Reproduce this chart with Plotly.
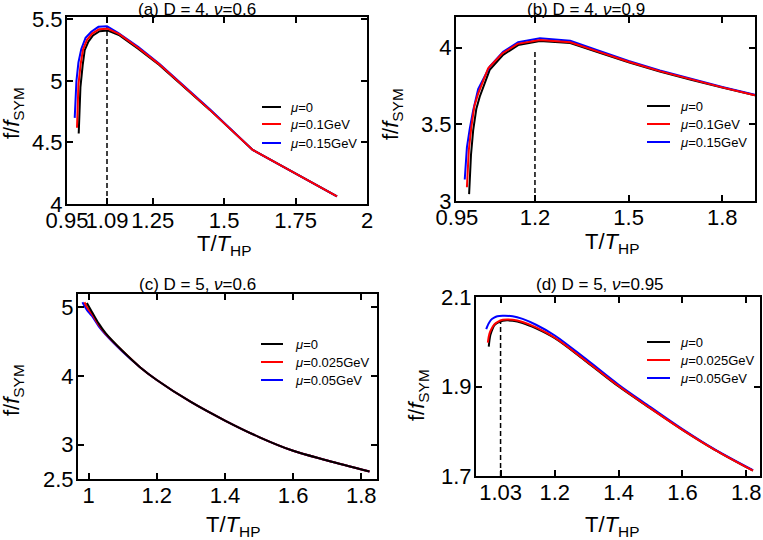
import plotly.graph_objects as go

W, H = 763, 540
FONT = "Liberation Sans, Arial, sans-serif"

# ---------------- data ----------------
# (a) D = 4, nu = 0.6
A_T_k = [0.991, 0.997, 1.005, 1.012, 1.025, 1.041, 1.064, 1.093, 1.134, 1.2, 1.273, 1.45, 1.6, 1.895]
A_f_k = [4.573, 4.95, 5.13, 5.25, 5.32, 5.37, 5.405, 5.41, 5.37, 5.26, 5.13, 4.765, 4.44, 4.062]
A_T_r = [0.985, 0.99, 0.998, 1.006, 1.02, 1.038, 1.062, 1.092, 1.133, 1.2, 1.273, 1.45, 1.6, 1.895]
A_f_r = [4.62, 4.97, 5.14, 5.255, 5.335, 5.385, 5.42, 5.425, 5.38, 5.268, 5.135, 4.765, 4.44, 4.062]
A_T_b = [0.977, 0.983, 0.99, 1.0, 1.015, 1.035, 1.06, 1.09, 1.13, 1.2, 1.273, 1.45, 1.6, 1.895]
A_f_b = [4.70, 5.0, 5.15, 5.26, 5.35, 5.40, 5.44, 5.445, 5.39, 5.275, 5.14, 4.77, 4.44, 4.062]
A_dash_T = [1.09, 1.09]
A_dash_f = [4.0, 5.44]
A_xticks = [0.95, 1.09, 1.25, 1.5, 1.75, 2.0]
A_xlabels = ["0.95", "1.09", "1.25", "1.5", "1.75", "2"]
A_yticks = [4.0, 4.5, 5.0, 5.5]
A_ylabels = ["4", "4.5", "5", "5.5"]
A_legend = ["μ=0", "μ=0.1GeV", "μ=0.15GeV"]

# (b) D = 4, nu = 0.9
B_T_k = [0.989, 0.995, 1.002, 1.012, 1.023, 1.055, 1.098, 1.146, 1.216, 1.313, 1.4, 1.5, 1.6, 1.7, 1.8, 1.905]
B_f_k = [3.045, 3.3, 3.46, 3.6, 3.68, 3.855, 3.953, 4.017, 4.043, 4.03, 3.972, 3.905, 3.845, 3.79, 3.74, 3.69]
B_T_r = [0.982, 0.988, 0.996, 1.006, 1.018, 1.05, 1.095, 1.144, 1.216, 1.313, 1.4, 1.5, 1.6, 1.7, 1.8, 1.905]
B_f_r = [3.09, 3.33, 3.48, 3.62, 3.70, 3.865, 3.962, 4.025, 4.05, 4.035, 3.976, 3.908, 3.847, 3.792, 3.741, 3.69]
B_T_b = [0.975, 0.982, 0.991, 1.002, 1.018, 1.055, 1.098, 1.146, 1.216, 1.313, 1.4, 1.5, 1.6, 1.7, 1.8, 1.905]
B_f_b = [3.14, 3.35, 3.47, 3.59, 3.73, 3.877, 3.974, 4.035, 4.061, 4.045, 3.983, 3.913, 3.851, 3.795, 3.743, 3.692]
B_dash_T = [1.2, 1.2]
B_dash_f = [3.0, 3.985]
B_xticks = [0.95, 1.2, 1.5, 1.8]
B_xlabels = ["0.95", "1.2", "1.5", "1.8"]
B_yticks = [3.0, 3.5, 4.0]
B_ylabels = ["3", "3.5", "4"]
B_legend = ["μ=0", "μ=0.1GeV", "μ=0.15GeV"]

# (c) D = 5, nu = 0.6
C_T_k = [0.995, 1.01, 1.03, 1.05, 1.1, 1.15, 1.2, 1.3, 1.4, 1.5, 1.6, 1.7, 1.824]
C_f_k = [5.06, 4.93, 4.76, 4.62, 4.36, 4.13, 3.94, 3.62, 3.35, 3.11, 2.91, 2.77, 2.61]
C_T_r = [0.988, 0.995, 1.01, 1.03, 1.05, 1.1, 1.15, 1.2, 1.3, 1.4, 1.5, 1.6, 1.7, 1.824]
C_f_r = [5.07, 5.0, 4.90, 4.74, 4.61, 4.36, 4.13, 3.94, 3.62, 3.35, 3.11, 2.91, 2.77, 2.61]
C_T_b = [0.982, 0.995, 1.01, 1.03, 1.05, 1.1, 1.15, 1.2, 1.3, 1.4, 1.5, 1.6, 1.7, 1.824]
C_f_b = [5.07, 4.96, 4.87, 4.72, 4.60, 4.35, 4.13, 3.94, 3.62, 3.35, 3.11, 2.91, 2.77, 2.61]
C_xticks = [1.0, 1.2, 1.4, 1.6, 1.8]
C_xlabels = ["1", "1.2", "1.4", "1.6", "1.8"]
C_yticks = [2.5, 3.0, 4.0, 5.0]
C_ylabels = ["2.5", "3", "4", "5"]
C_legend = ["μ=0", "μ=0.025GeV", "μ=0.05GeV"]

# (d) D = 5, nu = 0.95
D_T_k = [0.993, 0.998, 1.005, 1.011, 1.02, 1.037, 1.068, 1.099, 1.141, 1.2, 1.3, 1.4, 1.5, 1.6, 1.7, 1.821]
D_f_k = [1.989, 2.015, 2.029, 2.037, 2.042, 2.047, 2.047, 2.042, 2.03, 2.008, 1.955, 1.9, 1.851, 1.803, 1.759, 1.712]
D_T_r = [0.99, 0.995, 1.003, 1.011, 1.02, 1.037, 1.068, 1.099, 1.141, 1.2, 1.3, 1.4, 1.5, 1.6, 1.7, 1.821]
D_f_r = [1.998, 2.018, 2.031, 2.039, 2.044, 2.049, 2.049, 2.044, 2.032, 2.009, 1.956, 1.901, 1.851, 1.803, 1.759, 1.712]
D_T_b = [0.985, 0.992, 1.0, 1.01, 1.02, 1.037, 1.068, 1.099, 1.141, 1.2, 1.3, 1.4, 1.5, 1.6, 1.7, 1.821]
D_f_b = [2.028, 2.04, 2.049, 2.054, 2.057, 2.058, 2.057, 2.051, 2.038, 2.014, 1.96, 1.904, 1.854, 1.805, 1.76, 1.713]
D_dash_T = [1.03, 1.03]
D_dash_f = [1.7, 2.045]
D_xticks = [1.03, 1.2, 1.4, 1.6, 1.8]
D_xlabels = ["1.03", "1.2", "1.4", "1.6", "1.8"]
D_yticks = [1.7, 1.9, 2.1]
D_ylabels = ["1.7", "1.9", "2.1"]
D_legend = ["μ=0", "μ=0.025GeV", "μ=0.05GeV"]

TITLES = ["(a) D = 4, <i>ν</i>=0.6", "(b) D = 4, <i>ν</i>=0.9",
          "(c) D = 5, <i>ν</i>=0.6", "(d) D = 5, <i>ν</i>=0.95"]

BLACK, RED, BLUE = "#000000", "#ff0000", "#0000ff"

# ---------------- layout geometry (pixels) ----------------
panels = [
    dict(key="", box=(67, 367, 17, 204), xr=[0.95, 2.0], yr=[4.0, 5.52],
         xt=A_xticks, xl=A_xlabels, yt=A_yticks, yl=A_ylabels,
         title=(197, 10), xtitle=(224, 245), ytitle=(13, 113),
         leg=(262, 281, 288, [107, 124, 143]), names=A_legend),
    dict(key="2", box=(456, 755, 17, 201), xr=[0.947, 1.905], yr=[3.0, 4.2],
         xt=B_xticks, xl=B_xlabels, yt=B_yticks, yl=B_ylabels,
         title=(586, 10), xtitle=(612, 243), ytitle=(392, 114),
         leg=(647, 670, 678, [106, 124, 142]), names=B_legend),
    dict(key="3", box=(78, 377, 294, 479), xr=[0.969, 1.846], yr=[2.5, 5.19],
         xt=C_xticks, xl=C_xlabels, yt=C_yticks, yl=C_ylabels,
         title=(197, 284), xtitle=(233, 526), ytitle=(13, 390),
         leg=(261, 283, 293, [344, 362, 380]), names=C_legend),
    dict(key="4", box=(476, 760, 297, 476), xr=[0.953, 1.843], yr=[1.7, 2.1],
         xt=D_xticks, xl=D_xlabels, yt=D_yticks, yl=D_ylabels,
         title=(600, 284), xtitle=(612, 526), ytitle=(418, 395),
         leg=(647, 670, 678, [342, 360, 378]), names=D_legend),
]

fig = go.Figure()


def add_line(x, y, color, axkey, width=2, dash=None, shape="linear"):
    fig.add_trace(go.Scatter(
        x=x, y=y, mode="lines",
        line=dict(color=color, width=width, dash=dash, shape=shape),
        xaxis="x" + axkey, yaxis="y" + axkey, showlegend=False, hoverinfo="skip"))


# (a)
add_line(A_dash_T, A_dash_f, BLACK, "", width=1.5, dash="5px,3px")
add_line(A_T_k, A_f_k, BLACK, "")
add_line(A_T_b, A_f_b, BLUE, "")
add_line(A_T_r, A_f_r, RED, "")
# (b)
add_line(B_dash_T, B_dash_f, BLACK, "2", width=1.5, dash="5px,3px")
add_line(B_T_k, B_f_k, BLACK, "2")
add_line(B_T_b, B_f_b, BLUE, "2")
add_line(B_T_r, B_f_r, RED, "2")
# (c)
add_line(C_T_b, C_f_b, BLUE, "3", shape="spline")
add_line(C_T_r, C_f_r, RED, "3", shape="spline")
add_line(C_T_k, C_f_k, BLACK, "3", shape="spline")
# (d)
add_line(D_dash_T, D_dash_f, BLACK, "4", width=1.5, dash="5px,3px")
add_line(D_T_k, D_f_k, BLACK, "4", shape="spline")
add_line(D_T_b, D_f_b, BLUE, "4", shape="spline")
add_line(D_T_r, D_f_r, RED, "4", shape="spline")

layout = dict(
    width=W, height=H, margin=dict(l=0, r=0, t=0, b=0, pad=0, autoexpand=False),
    paper_bgcolor="white", plot_bgcolor="white", showlegend=False,
    font=dict(family=FONT, color="black"),
)

axis_common = dict(
    showgrid=False, zeroline=False, showline=True, linecolor="black", linewidth=2,
    mirror="ticks", ticks="inside", ticklen=6, tickwidth=1.5, tickcolor="black",
    tickfont=dict(family=FONT, size=22, color="black"), tickmode="array",
    automargin=False,
)

annotations = []
shapes = []
for p in panels:
    x0, x1, y0, y1 = p["box"]
    k = p["key"]
    layout["xaxis" + k] = dict(axis_common, domain=[x0 / W, x1 / W], range=p["xr"],
                               tickvals=p["xt"], ticktext=p["xl"], anchor="y" + k,
                               tickangle=0, ticklabelstandoff=-4)
    layout["yaxis" + k] = dict(axis_common, domain=[1 - y1 / H, 1 - y0 / H], range=p["yr"],
                               tickvals=p["yt"], ticktext=p["yl"], anchor="x" + k,
                               ticklabelstandoff=-2)
    ti = ["", "2", "3", "4"].index(k)
    tx, ty = p["title"]
    annotations.append(dict(text=TITLES[ti], x=tx / W, y=1 - ty / H, xref="paper", yref="paper",
                            showarrow=False, xanchor="center", yanchor="middle",
                            font=dict(family=FONT, size=17, color="black")))
    xx, xy = p["xtitle"]
    annotations.append(dict(text="T/<i>T</i><sub>HP</sub>", x=xx / W, y=1 - xy / H,
                            xref="paper", yref="paper", showarrow=False,
                            xanchor="center", yanchor="middle",
                            font=dict(family=FONT, size=22, color="black")))
    yx, yy = p["ytitle"]
    annotations.append(dict(text="f/<i>f</i><sub>SYM</sub>", x=yx / W, y=1 - yy / H,
                            xref="paper", yref="paper", showarrow=False, textangle=-90,
                            xanchor="center", yanchor="middle",
                            font=dict(family=FONT, size=22, color="black")))
    lx0, lx1, ltx, lys = p["leg"]
    for name, color, ly in zip(p["names"], [BLACK, RED, BLUE], lys):
        shapes.append(dict(type="line", xref="paper", yref="paper",
                           x0=lx0 / W, x1=lx1 / W, y0=1 - ly / H, y1=1 - ly / H,
                           line=dict(color=color, width=2)))
        txt = name.replace("μ", "<i>μ</i>")
        annotations.append(dict(text=txt, x=ltx / W, y=1 - ly / H, xref="paper", yref="paper",
                                showarrow=False, xanchor="left", yanchor="middle",
                                font=dict(family=FONT, size=13, color="black")))

layout["annotations"] = annotations
layout["shapes"] = shapes
fig.update_layout(**layout)
fig.write_html("out.html", config={"displayModeBar": False},
               post_script="document.body.style.margin='0';document.body.style.overflow='hidden';")
